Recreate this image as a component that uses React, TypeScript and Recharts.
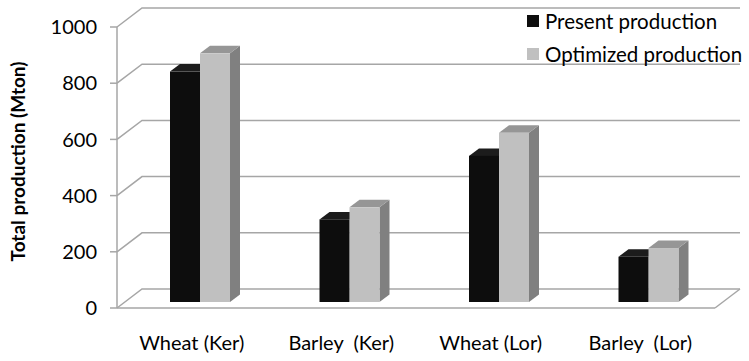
import { BarChart, Bar, XAxis, YAxis, CartesianGrid, Legend } from "recharts";

const categories = ["Wheat (Ker)", "Barley\u00a0 (Ker)", "Wheat (Lor)", "Barley\u00a0 (Lor)"];
const presentProduction = [820, 294, 520, 161];
const optimizedProduction = [885, 337, 602, 192];
const yTicks = [0, 200, 400, 600, 800, 1000];
const seriesNames = ["Present production", "Optimized production"];

const data = categories.map((name, i) => ({
  name,
  present: presentProduction[i],
  optimized: optimizedProduction[i],
}));

const FONT = "Lato, 'Open Sans', sans-serif";
const GRID = "#a6a6a6";

// chart frame
const W = 749;
const H = 361;
const Y_AXIS_W = 60;
const MARGIN = { top: 27, right: 34, bottom: 13, left: 57 };

// fake perspective: floor depth, bar plane offset, bar depth
const WALL_DX = 25;
const WALL_DY = 19;
const PLANE_DX = 8;
const PLANE_DY = 6;
const BAR_DX = 10;
const BAR_DY = 7.5;

type Faces = { front: string; top: string; side: string };

const makeBox = (faces: Faces) => (props: any) => {
  const { x, y, width, height } = props;
  if (width == null || height == null) return null;
  const fx = x + PLANE_DX;
  const fy = y - PLANE_DY;
  const top = `${fx},${fy} ${fx + BAR_DX},${fy - BAR_DY} ${fx + width + BAR_DX},${fy - BAR_DY} ${fx + width},${fy}`;
  const side = `${fx + width},${fy} ${fx + width + BAR_DX},${fy - BAR_DY} ${fx + width + BAR_DX},${fy + height - BAR_DY} ${fx + width},${fy + height}`;
  return (
    <g>
      <polygon points={side} fill={faces.side} />
      <polygon points={top} fill={faces.top} />
      <rect x={fx} y={fy} width={width} height={height} fill={faces.front} />
    </g>
  );
};

const blackBox = makeBox({ front: "#0d0d0d", top: "#1c1c1c", side: "#000000" });
const grayBox = makeBox({ front: "#c0c0c0", top: "#969696", side: "#808080" });

// side wall + back wall line for each y tick; floor gets its right edge too
const WallLine = (props: any) => {
  const { x1, x2, y1, y, height } = props;
  const bx1 = x1 + WALL_DX;
  const bx2 = x2 + WALL_DX;
  const by = y1 - WALL_DY;
  const isFloor = Math.abs(y1 - (y + height)) < 1;
  return (
    <g>
      <polyline
        points={`${x1},${y1} ${bx1},${by} ${bx2},${by}`}
        fill="none"
        stroke={GRID}
        strokeWidth={1.5}
      />
      {isFloor && <line x1={x2} y1={y1} x2={bx2} y2={by} stroke={GRID} strokeWidth={1.5} />}
    </g>
  );
};

const AxisTitle = () => {
  const cx = 17.5;
  const cy = 161.5;
  return (
    <text
      x={cx}
      y={cy}
      transform={`rotate(-90 ${cx} ${cy})`}
      textAnchor="middle"
      dominantBaseline="central"
      fontFamily={FONT}
      fontWeight="bold"
      fontSize={19}
      fill="#000"
    >
      Total production (Mton)
    </text>
  );
};

const LegendBox = (props: any) => {
  const items = [...(props.payload || [])].sort(
    (a: any, b: any) => seriesNames.indexOf(a.value) - seriesNames.indexOf(b.value)
  );
  return (
    <div style={{ fontFamily: FONT, fontSize: 20.5, color: "#000" }}>
      {items.map((it: any) => (
        <div key={it.value} style={{ display: "flex", alignItems: "center", height: 33 }}>
          <span
            style={{ width: 12, height: 12, background: it.color, marginRight: 6, display: "inline-block" }}
          />
          <span>{it.value}</span>
        </div>
      ))}
    </div>
  );
};

export default function App() {
  return (
    <div style={{ position: "absolute", left: 0, top: 0, background: "#fff" }}>
      <BarChart width={W} height={H} data={data} margin={MARGIN} barGap={0} barSize={30}>
        <CartesianGrid vertical={false} horizontal={WallLine} />
        <XAxis
          dataKey="name"
          tickLine={false}
          axisLine={{ stroke: GRID, strokeWidth: 1.5 }}
          height={40}
          tickMargin={22}
          tick={{ fontFamily: FONT, fontSize: 20, fill: "#000" }}
          interval={0}
        />
        <YAxis
          width={Y_AXIS_W}
          domain={[0, 1000]}
          ticks={yTicks}
          tickSize={7}
          tickMargin={13}
          axisLine={{ stroke: GRID, strokeWidth: 1.5 }}
          tickLine={{ stroke: GRID, strokeWidth: 1.5 }}
          tick={{ fontFamily: FONT, fontSize: 20, fill: "#000" }}
          label={AxisTitle}
        />
        <Legend
          layout="vertical"
          align="center"
          verticalAlign="middle"
          wrapperStyle={{ top: 4, left: 527, width: 230 }}
          content={LegendBox}
        />
        <Bar dataKey="present" name={seriesNames[0]} fill="#0d0d0d" shape={blackBox} isAnimationActive={false} />
        <Bar dataKey="optimized" name={seriesNames[1]} fill="#c0c0c0" shape={grayBox} isAnimationActive={false} />
      </BarChart>
    </div>
  );
}
